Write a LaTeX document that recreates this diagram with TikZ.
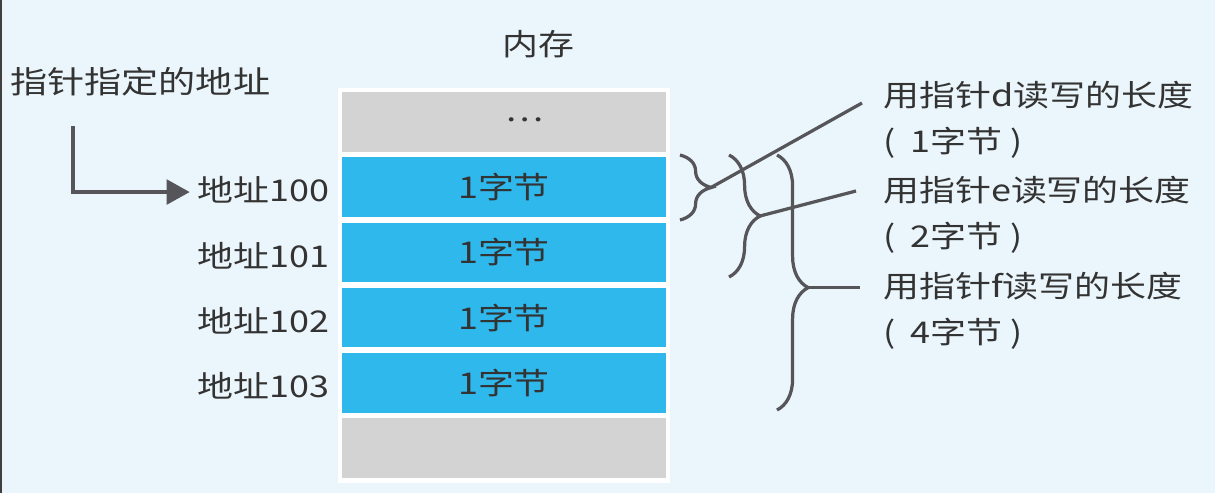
\documentclass[tikz,border=0pt]{standalone}
\usepackage{fontspec}
\setmainfont{Noto Sans CJK SC}[FakeStretch=1.2]
\usetikzlibrary{positioning,arrows.meta,decorations.pathreplacing}
\definecolor{bgblue}{RGB}{235,246,252}
\definecolor{cellblue}{RGB}{46,184,236}
\definecolor{cellgray}{RGB}{211,211,211}
\definecolor{ink}{RGB}{51,51,51}
\definecolor{linegray}{RGB}{85,85,90}
\begin{document}
\begin{tikzpicture}[x=0.025cm,y=-0.025cm,
  txt/.style={text=ink,inner sep=0pt,font=\fontsize{21.3}{32.6}\selectfont},
  cell/.style={txt,minimum width=8.1cm,minimum height=1.4875cm},
  curly/.style={draw=linegray,line width=2.3pt,decorate,decoration={brace,amplitude=0.78cm}},
  wire/.style={draw=linegray,line width=2.3pt}]
\fill [bgblue] (0,0) rectangle (1215,493);
\useasboundingbox (0,0) rectangle (1215,493);
\draw [black!75,line width=1.4pt] (0.7,0) -- (0.7,493);
% memory
\node[txt] (mem) at (538,44) {内存};
\fill [white] (338,88) rectangle (670,483);
\node[cell,fill=cellgray] (c0) at (504,121.75) {};
\node[txt] (dots) at (525,120) {…};
\foreach \i/\a in {1/100,2/101,3/102,4/103} {
  \node[cell,fill=cellblue] (c\i) at (504,{121.75+65.3*\i}) {1字节};
  \node[txt,anchor=east] (addr\i) at (330,{124.75+65.3*\i}) {地址\a};
}
\node[cell,fill=cellgray] (c5) at (504,448.25) {};
% pointer
\node[txt,anchor=west,font=\fontsize{22}{30}\selectfont] (ptr) at (10,82) {指针指定的地址};
\coordinate (ptrtop) at (73,126);
\draw [linegray,line width=2.5pt,-{Triangle[length=0.58cm,width=0.62cm]},shorten >=0.2cm] (ptrtop) |- ([yshift=-0.05cm]addr1.west);
% lengths
\node[txt,anchor=west,align=left] (dlab) at (883,120) {用指针d读写的长度\\(\enspace1字节 )};
\node[txt,anchor=west,align=left] (elab) at (883,215) {用指针e读写的长度\\(\enspace2字节 )};
\node[txt,anchor=west,align=left] (flab) at (883,310.5) {用指针f读写的长度\\(\enspace4字节 )};
\coordinate (b1t) at (680,155); \coordinate (b1b) at (680,220);
\coordinate (b2t) at (729,155); \coordinate (b2b) at (729,277);
\coordinate (b3t) at (777,155); \coordinate (b3b) at (777,410);
\coordinate (b1tip) at (711,187.5);
\coordinate (b2tip) at (760,216);
\coordinate (b3tip) at (808,287.6);
\coordinate (dend) at (862,103);
\coordinate (eend) at (856,191);
\coordinate (fend) at (860,287.6);
\draw [curly] (b1t) -- (b1b);
\draw [curly] (b2t) -- (b2b);
\draw [curly,decoration={aspect=0.52}] (b3t) -- (b3b);
\draw [wire] (b1tip) -- (dend);
\draw [wire] (b2tip) -- (eend);
\draw [wire] (b3tip) -- (fend);
\end{tikzpicture}
\end{document}
